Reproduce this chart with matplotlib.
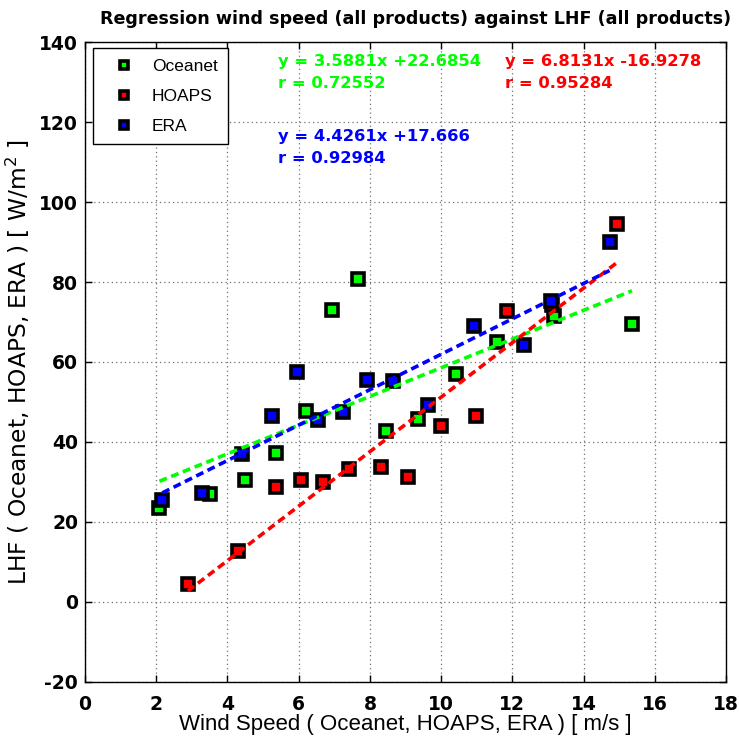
import matplotlib.pyplot as plt
import numpy as np

plt.rcParams['font.family'] = ['DejaVu Sans']
plt.rcParams['axes.unicode_minus'] = False

# Oceanet
oce_ws = [2.09, 3.51, 4.49, 5.36, 6.21, 6.95, 7.68, 8.46, 9.34, 10.43, 11.58, 13.16, 15.36]
oce_lhf = [23.4, 27.0, 30.6, 37.3, 47.8, 73.0, 80.8, 42.7, 45.7, 57.1, 65.0, 71.6, 69.5]
# HOAPS
hoa_ws = [2.89, 4.31, 5.36, 6.06, 6.68, 7.41, 8.31, 9.08, 9.99, 10.97, 11.85, 13.12, 14.93]
hoa_lhf = [4.6, 12.7, 28.8, 30.5, 30.0, 33.3, 33.7, 31.3, 44.0, 46.6, 72.8, 74.2, 94.6]
# ERA
era_ws = [2.17, 3.28, 4.40, 5.26, 5.96, 6.54, 7.24, 7.91, 8.66, 9.62, 10.93, 12.33, 13.08, 14.73]
era_lhf = [25.5, 27.3, 37.0, 46.5, 57.4, 45.6, 47.5, 55.4, 55.2, 49.2, 68.9, 64.2, 75.2, 90.0]

names = ['Oceanet', 'HOAPS', 'ERA']
colors = [(0, 1, 0), (1, 0, 0), (0, 0, 1)]
slopes = [3.5881, 6.8131, 4.4261]
intercepts = [22.6854, -16.9278, 17.666]
r_values = [0.72552, 0.95284, 0.92984]
text_x = [5.42, 11.8, 5.42]
text_y = [135.2, 135.2, 116.5]

fig = plt.figure(figsize=(7.39, 7.45), dpi=100)
ax = fig.add_axes([0.115, 0.0846, 0.8674, 0.859])

series = [(oce_ws, oce_lhf), (hoa_ws, hoa_lhf), (era_ws, era_lhf)]

for (xs, ys), name, c in zip(series, names, colors):
    ax.plot(xs, ys, 's', mfc=c, mec='k', mew=2.6, ms=9, label=name, zorder=3)

for (xs, ys), c, a, b in zip(series, colors, slopes, intercepts):
    xx = np.array([min(xs), max(xs)])
    ax.plot(xx, a * xx + b, '--', color=c, lw=2.6, dashes=(2.2, 1.3), zorder=4)

for tx, ty, c, a, b, r in zip(text_x, text_y, colors, slopes, intercepts, r_values):
    sign = '+' if b >= 0 else '-'
    ax.text(tx, ty, 'y = %sx %s%s' % (a, sign, abs(b)), color=c, fontsize=11.8,
            fontweight='bold', va='center', ha='left', zorder=5)
    ax.text(tx, ty - 5.5, 'r = %s' % r, color=c, fontsize=11.8,
            fontweight='bold', va='center', ha='left', zorder=5)

ax.set_xlim(0, 18)
ax.set_ylim(-20, 140)
ax.set_xticks(range(0, 19, 2))
ax.set_yticks(range(-20, 141, 20))
ax.tick_params(direction='in', top=True, right=True, length=5, width=1, labelsize=13.5)
ax.tick_params(axis='x', pad=9.5)
ax.tick_params(axis='y', pad=5)
for lab in ax.get_xticklabels() + ax.get_yticklabels():
    lab.set_fontweight('bold')
ax.grid(True, linestyle=(0, (1, 2.5)), color='0.45', lw=0.9)
for s in ax.spines.values():
    s.set_linewidth(1)

ax.set_xlabel('Wind Speed ( Oceanet, HOAPS, ERA ) [ m/s ]', fontsize=16,
              family='Liberation Sans', labelpad=0)
ax.set_ylabel('LHF ( Oceanet, HOAPS, ERA ) [ W/m$^2$ ]', fontsize=16.8)
ax.yaxis.set_label_coords(-0.082, 0.5)
ax.set_title('Regression wind speed (all products) against LHF (all products)',
             fontsize=12.6, fontweight='bold', pad=13, x=0.515)

leg = ax.legend(loc='upper left', bbox_to_anchor=(0.0125, 0.99), borderaxespad=0,
                fancybox=False, edgecolor='k', framealpha=1, markerscale=0.65,
                prop={'family': 'Liberation Sans', 'size': 12.5},
                handletextpad=0.4, borderpad=0.6, labelspacing=0.85,
                handlelength=2.4)
leg.get_frame().set_linewidth(1)

fig.savefig('out.png', dpi=100)
